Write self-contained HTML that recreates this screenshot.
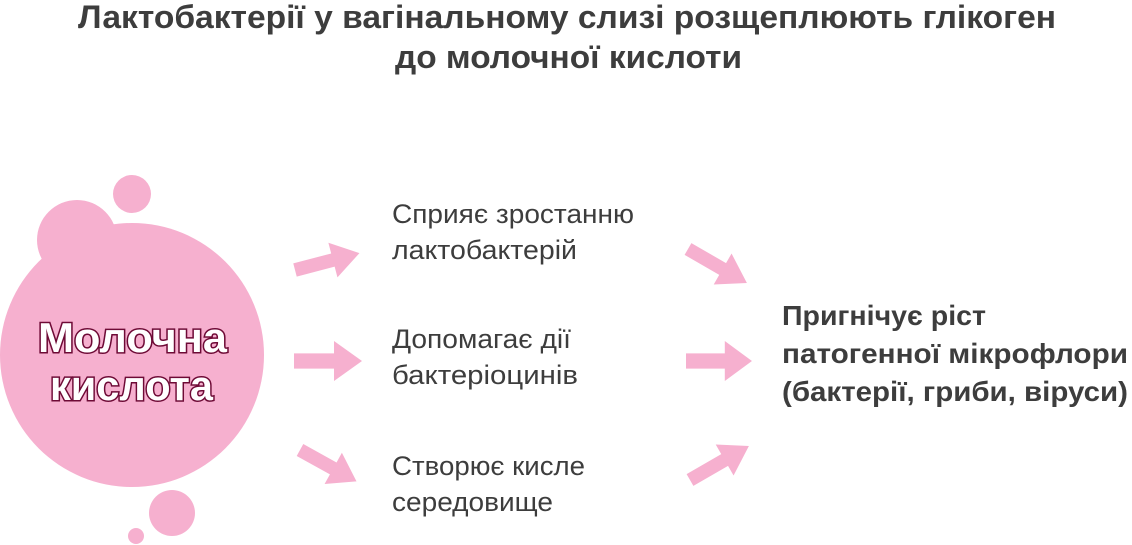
<!DOCTYPE html>
<html><head><meta charset="utf-8"><style>
html,body{margin:0;padding:0;background:#fff;width:1132px;height:545px;overflow:hidden}
svg{display:block}
</style></head><body>
<svg width="1132" height="545" viewBox="0 0 1132 545" xmlns="http://www.w3.org/2000/svg">
<defs>
<polygon id="ar" points="0,-8 40,-8 40,-21 68,0 40,21 40,8 0,8"/>
</defs>
<g font-family="'Liberation Sans','DejaVu Sans',sans-serif" font-weight="bold" font-size="32" fill="#3d3d3d">
<text x="78" y="28" textLength="978" lengthAdjust="spacingAndGlyphs">Лактобактерії у вагінальному слизі розщеплюють глікоген</text>
<text x="395" y="68" textLength="347" lengthAdjust="spacingAndGlyphs">до молочної кислоти</text>
</g>
<g fill="#f6b0cf">
<circle cx="77" cy="240" r="40"/>
<circle cx="132" cy="194" r="19"/>
<circle cx="132" cy="355" r="132"/>
<circle cx="172" cy="513" r="23"/>
<circle cx="136" cy="536" r="8"/>
<use href="#ar" transform="translate(295,270) rotate(-14.7) scale(0.98,0.85)"/>
<use href="#ar" transform="translate(294,361) scale(1,0.95)"/>
<use href="#ar" transform="translate(300,450) rotate(29) scale(0.95,0.85)"/>
<use href="#ar" transform="translate(688,249) rotate(30) scale(1,0.85)"/>
<use href="#ar" transform="translate(686,361) scale(0.97,0.95)"/>
<use href="#ar" transform="translate(690,480) rotate(-30) scale(1,0.85)"/>
</g>
<g font-family="'Liberation Sans','DejaVu Sans',sans-serif" font-weight="bold" font-size="42" fill="#fff" stroke="#6e0a36" stroke-width="3" paint-order="stroke">
<text x="38" y="352" textLength="189" lengthAdjust="spacingAndGlyphs">Молочна</text>
<text x="50" y="400" textLength="163" lengthAdjust="spacingAndGlyphs">кислота</text>
</g>
<g font-family="'Liberation Sans','DejaVu Sans',sans-serif" font-size="27" fill="#3d3d3d">
<text x="392" y="223" textLength="242" lengthAdjust="spacingAndGlyphs">Сприяє зростанню</text>
<text x="392" y="259" textLength="185" lengthAdjust="spacingAndGlyphs">лактобактерій</text>
<text x="392" y="348" textLength="179" lengthAdjust="spacingAndGlyphs">Допомагає дії</text>
<text x="392" y="384" textLength="186" lengthAdjust="spacingAndGlyphs">бактеріоцинів</text>
<text x="392" y="475" textLength="193" lengthAdjust="spacingAndGlyphs">Створює кисле</text>
<text x="392" y="511" textLength="161" lengthAdjust="spacingAndGlyphs">середовище</text>
</g>
<g font-family="'Liberation Sans','DejaVu Sans',sans-serif" font-weight="bold" font-size="28" fill="#3d3d3d">
<text x="782" y="325" textLength="204" lengthAdjust="spacingAndGlyphs">Пригнічує ріст</text>
<text x="782" y="363" textLength="346" lengthAdjust="spacingAndGlyphs">патогенної мікрофлори</text>
<text x="782" y="401" textLength="346" lengthAdjust="spacingAndGlyphs">(бактерії, гриби, віруси)</text>
</g>
</svg>
</body></html>
